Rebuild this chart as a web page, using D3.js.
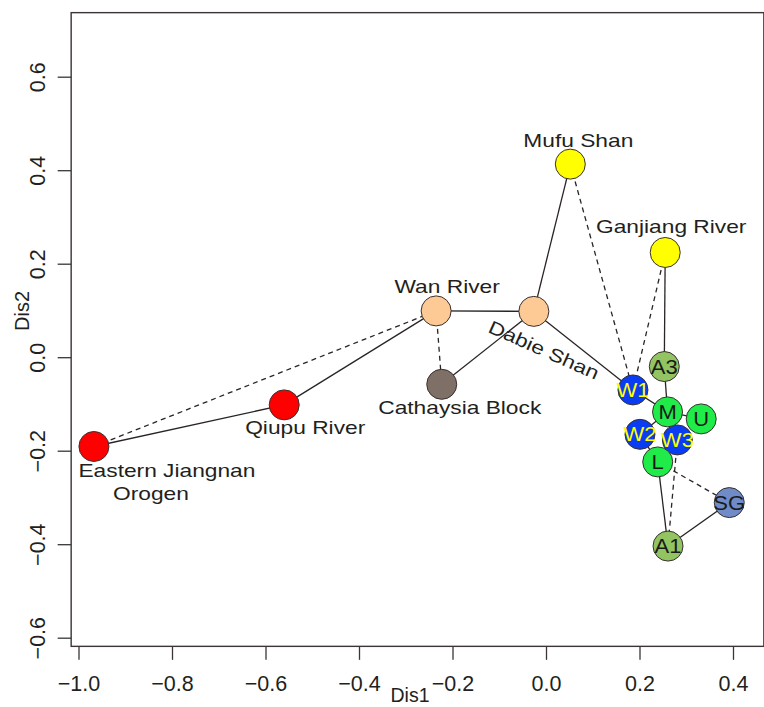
<!DOCTYPE html>
<html>
<head>
<meta charset="utf-8">
<script src="https://cdn.jsdelivr.net/npm/d3@7"></script>
<style>
  html, body { margin: 0; padding: 0; background: #fff; }
  svg { display: block; }
  text { font-family: "Liberation Sans", Arial, Helvetica, sans-serif; }
</style>
</head>
<body>
<svg id="chart" width="764" height="707"></svg>
<script>
// ---- data ----
const names = ["Eastern Jiangnan Orogen", "Qiupu River", "Wan River", "Cathaysia Block",
  "Dabie Shan", "Mufu Shan", "Ganjiang River", "A3", "W1", "W2", "W3", "M", "U", "L", "SG", "A1"];
const dis1 = [-0.967, -0.560, -0.235, -0.223, -0.026, 0.052, 0.255, 0.253, 0.186, 0.201, 0.281, 0.260, 0.332, 0.239, 0.392, 0.261];
const dis2 = [-0.191, -0.102, 0.099, -0.058, 0.098, 0.413, 0.224, -0.020, -0.070, -0.165, -0.177, -0.117, -0.132, -0.224, -0.311, -0.404];
const groups = ["red", "red", "peach", "brown", "peach", "yellow", "yellow", "olive", "blue", "blue", "blue", "green", "green", "green", "steel", "olive"];
const pointLabels = ["", "", "", "", "", "", "", "A3", "W1", "W2", "W3", "M", "U", "L", "SG", "A1"];

const solidEdges = [
  ["Eastern Jiangnan Orogen", "Qiupu River"],
  ["Qiupu River", "Wan River"],
  ["Wan River", "Dabie Shan"],
  ["Cathaysia Block", "Dabie Shan"],
  ["Dabie Shan", "Mufu Shan"],
  ["Dabie Shan", "W1"],
  ["W1", "M"],
  ["Ganjiang River", "A3"],
  ["A3", "M"],
  ["M", "U"],
  ["M", "W2"],
  ["W2", "L"],
  ["L", "A1"],
  ["A1", "SG"]
];
const dashedEdges = [
  ["Eastern Jiangnan Orogen", "Wan River"],
  ["Wan River", "Cathaysia Block"],
  ["Mufu Shan", "W1"],
  ["Ganjiang River", "W1"],
  ["L", "SG"],
  ["W3", "A1"]
];

const xTicks = [-1.0, -0.8, -0.6, -0.4, -0.2, 0.0, 0.2, 0.4];
const yTicks = [-0.6, -0.4, -0.2, 0.0, 0.2, 0.4, 0.6];
const xLim = [-1.0157, 0.466];
const yLim = [-0.6185, 0.737];

// ---- styles ----
const fillColors = {
  red: "#ff0000", peach: "#fdca95", brown: "#7e7067", yellow: "#ffff00",
  olive: "#92c462", blue: "#0a3df2", green: "#1fec48", steel: "#6f8cc9"
};
const ink = "#2a2424";
const R = 15;

const svg = d3.select("#chart");
const x = d3.scaleLinear().domain([-1.0, 0.4]).range([78.5, 733]);
const y = d3.scaleLinear().domain([-0.6, 0.6]).range([637.7, 76.7]);

const nodes = names.map((n, i) => ({ name: n, x: dis1[i], y: dis2[i], g: groups[i], lab: pointLabels[i] }));
const byName = Object.fromEntries(nodes.map(d => [d.name, d]));

// box
svg.append("rect")
  .attr("x", x(xLim[0])).attr("y", y(yLim[1]))
  .attr("width", x(xLim[1]) - x(xLim[0]))
  .attr("height", y(yLim[0]) - y(yLim[1]))
  .attr("fill", "none").attr("stroke", "#3d3535").attr("stroke-width", 1.4);

// x axis (detached, R style)
const xAxisY = y(yLim[0]);
const xa = svg.append("g").attr("transform", `translate(0,${xAxisY})`)
  .call(d3.axisBottom(x).tickValues(xTicks).tickSize(13.5).tickPadding(16).tickFormat(d3.format(".1f")));
xa.select(".domain").remove();
xa.selectAll(".tick line").attr("stroke", "#3d3535").attr("stroke-width", 1.3);
xa.selectAll(".tick text").attr("font-size", 21.5).attr("fill", "#231f20")
  .attr("font-family", "'Liberation Sans', Arial, sans-serif");

// y axis
const yAxisX = x(xLim[0]);
const ya = svg.append("g").attr("transform", `translate(${yAxisX},0)`)
  .call(d3.axisLeft(y).tickValues(yTicks).tickSize(13.5).tickFormat(d3.format(".1f")));
ya.select(".domain").remove();
ya.selectAll(".tick line").attr("stroke", "#3d3535").attr("stroke-width", 1.3);
ya.selectAll(".tick text")
  .attr("font-size", 21.5).attr("fill", "#231f20")
  .attr("font-family", "'Liberation Sans', Arial, sans-serif")
  .attr("x", null).attr("dy", null)
  .attr("text-anchor", "middle")
  .attr("transform", "translate(-26.5,0) rotate(-90)");

// axis titles
svg.append("text").attr("x", 410).attr("y", 702).attr("text-anchor", "middle")
  .attr("font-size", 19.5).attr("fill", "#231f20").text("Dis1");
svg.append("text").attr("transform", "translate(29,311) rotate(-90)").attr("text-anchor", "middle")
  .attr("font-size", 20).attr("fill", "#231f20").text("Dis2");

// edges
const edgeLayer = svg.append("g");
edgeLayer.selectAll("line.solid").data(solidEdges).join("line")
  .attr("x1", d => x(byName[d[0]].x)).attr("y1", d => y(byName[d[0]].y))
  .attr("x2", d => x(byName[d[1]].x)).attr("y2", d => y(byName[d[1]].y))
  .attr("stroke", ink).attr("stroke-width", 1.3);
edgeLayer.selectAll("line.dash").data(dashedEdges).join("line")
  .attr("x1", d => x(byName[d[0]].x)).attr("y1", d => y(byName[d[0]].y))
  .attr("x2", d => x(byName[d[1]].x)).attr("y2", d => y(byName[d[1]].y))
  .attr("stroke", ink).attr("stroke-width", 1.3).attr("stroke-dasharray", "5,4");

// points
svg.append("g").selectAll("circle").data(nodes).join("circle")
  .attr("cx", d => x(d.x)).attr("cy", d => y(d.y)).attr("r", R)
  .attr("fill", d => fillColors[d.g]).attr("stroke", "#3a3030").attr("stroke-width", 1);

// labels inside points
svg.append("g").selectAll("text").data(nodes.filter(d => d.lab)).join("text")
  .attr("transform", d => `translate(${x(d.x)},${y(d.y) + 7}) scale(1.1,1)`)
  .attr("text-anchor", "middle").attr("font-size", 20)
  .attr("fill", d => d.g === "blue" ? "#ffff00" : "#1a1a1a")
  .text(d => d.lab);

// region name labels (offsets from points)
const nameLabels = [
  { name: "Mufu Shan", lines: ["Mufu Shan"], dx: 8, dy: -17, rot: 0 },
  { name: "Ganjiang River", lines: ["Ganjiang River"], dx: 6, dy: -19, rot: 0 },
  { name: "Wan River", lines: ["Wan River"], dx: 11, dy: -18, rot: 0 },
  { name: "Cathaysia Block", lines: ["Cathaysia Block"], dx: 18, dy: 30, rot: 0 },
  { name: "Qiupu River", lines: ["Qiupu River"], dx: 21, dy: 29, rot: 0 },
  { name: "Eastern Jiangnan Orogen", lines: ["Eastern Jiangnan", "Orogen"], dx: [73, 57], dy: 30.5, rot: 0 },
  { name: "Dabie Shan", lines: ["Dabie Shan"], dx: 10, dy: 38.5, rot: 24 }
];
const nl = svg.append("g");
nameLabels.forEach(L => {
  const p = byName[L.name];
  L.lines.forEach((t, k) => {
    const dx = Array.isArray(L.dx) ? L.dx[k] : L.dx;
    const cx = x(p.x) + dx, cy = y(p.y) + L.dy + k * 23.3;
    nl.append("text")
      .attr("transform", `translate(${cx},${cy}) rotate(${L.rot}) scale(1.23,1)`)
      .attr("text-anchor", "middle")
      .attr("dy", L.rot ? 6.5 : 0)
      .attr("font-size", 18.5).attr("fill", "#231f20")
      .text(t);
  });
});
</script>
</body>
</html>
